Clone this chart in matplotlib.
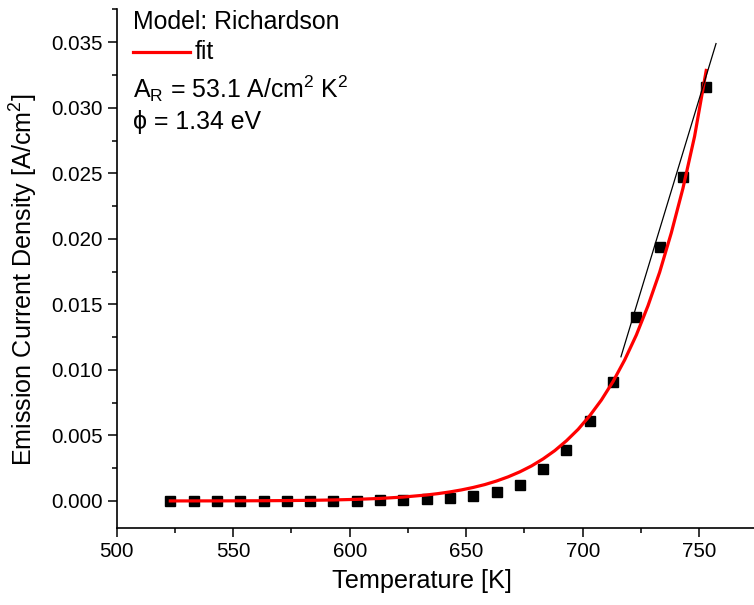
import matplotlib
matplotlib.use("Agg")
import matplotlib.pyplot as plt
from matplotlib.ticker import MultipleLocator, FormatStrFormatter

plt.rcParams['font.family'] = ['Liberation Sans', 'DejaVu Sans']
plt.rcParams['mathtext.default'] = 'regular'

# measured points
temp = [523, 533, 543, 553, 563, 573, 583, 593, 603, 613, 623, 633,
        643, 653, 663, 673, 683, 693, 703, 713, 723, 733, 743, 753]
current = [0.0, 0.0, 0.0, 0.0, 0.0, 0.0, 0.0, 0.0, 0.00003, 0.00005,
           0.00008, 0.00015, 0.00025, 0.0004, 0.0007, 0.0012, 0.0024,
           0.0039, 0.0061, 0.0091, 0.0140, 0.0194, 0.0247, 0.0316]

# Richardson fit curve
temp_fit = [523, 533, 543, 553, 563, 573, 583, 593, 603, 613, 623, 633,
            638, 643, 648, 653, 658, 663, 668, 673, 678, 683, 688, 693,
            698, 703, 708, 713, 718, 723, 728, 733, 738, 743, 748, 753]
current_fit = [0.0000018, 0.0000032, 0.0000057, 0.00001, 0.000017,
               0.0000286, 0.000047, 0.000076, 0.000122, 0.000192,
               0.000298, 0.000456, 0.000562, 0.000689, 0.000844, 0.00103,
               0.00125, 0.00152, 0.00184, 0.00222, 0.00267, 0.00321,
               0.00384, 0.00459, 0.00546, 0.0065, 0.0077, 0.00911, 0.01076,
               0.01266, 0.01489, 0.01745, 0.02045, 0.02385, 0.02782, 0.03285]

# straight guide line near the top
guide_t = [716.4, 757.2]
guide_j = [0.0110, 0.0349]

fig = plt.figure(figsize=(7.54, 6.05), dpi=100)
ax = fig.add_axes([0.1548, 0.1278, 0.8452, 0.8565])

ax.plot(temp, current, 's', color='black', markersize=7.2, zorder=2)
ax.plot(temp_fit, current_fit, '-', color='#ff0000', linewidth=2.3, zorder=3)
ax.plot(guide_t, guide_j, '-', color='black', linewidth=0.9, zorder=4)

ax.set_xlim(500, 773.5)
ax.set_ylim(-0.00204, 0.0375)
ax.spines['top'].set_visible(False)
ax.spines['right'].set_visible(False)
for s in ('left', 'bottom'):
    ax.spines[s].set_linewidth(1.2)

ax.xaxis.set_major_locator(MultipleLocator(50))
ax.xaxis.set_minor_locator(MultipleLocator(25))
ax.yaxis.set_major_locator(MultipleLocator(0.005))
ax.yaxis.set_minor_locator(MultipleLocator(0.0025))
ax.yaxis.set_major_formatter(FormatStrFormatter('%.3f'))
ax.tick_params(which='major', direction='out', length=6.5, width=1.1,
               labelsize=14.8)
ax.tick_params(which='minor', direction='out', length=3.5, width=1.1)
ax.tick_params(axis='x', pad=4)

ax.set_xlabel('Temperature [K]', fontsize=18.2)
ax.set_ylabel('Emission Current Density [A/cm$^2$]', fontsize=18.1)
ax.xaxis.set_label_coords(0.479, -0.08)
ax.yaxis.set_label_coords(-0.12, 0.478)

fig.text(133 / 754, 1 - 22 / 605, 'Model: Richardson', fontsize=17.9,
         va='center', ha='left')
fig.add_artist(plt.Line2D([133 / 754, 190 / 754], [1 - 52 / 605, 1 - 52 / 605],
                          color='#ff0000', linewidth=2.3))
fig.text(195 / 754, 1 - 52 / 605, 'fit', fontsize=17.9, va='center', ha='left')
fig.text(133 / 754, 1 - 89 / 605, 'A$_R$ = 53.1 A/cm$^2$ K$^2$', fontsize=17.9,
         va='center', ha='left')
fig.text(133 / 754, 1 - 122 / 605, '\u03d5 = 1.34 eV', fontsize=17.9,
         va='center', ha='left')

fig.savefig('out.png', dpi=100)
